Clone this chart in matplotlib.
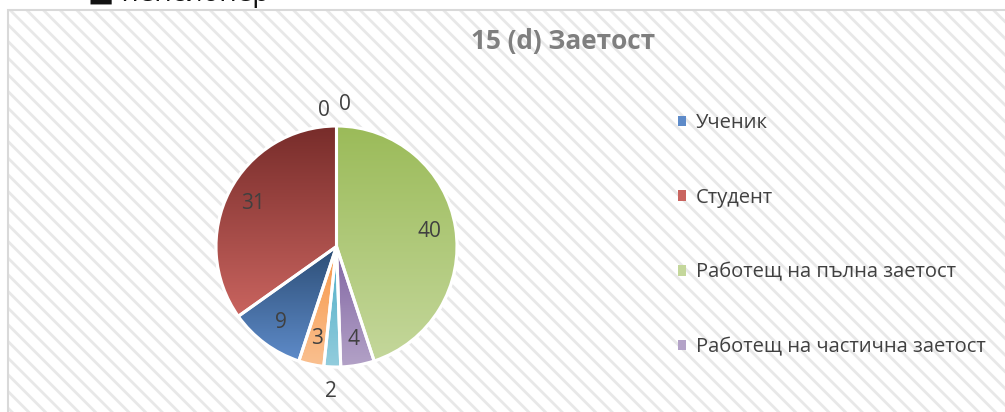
import numpy as np
import matplotlib
matplotlib.use("Agg")
import matplotlib.pyplot as plt
from matplotlib.patches import Rectangle, Patch, PathPatch
from matplotlib.colors import LinearSegmentedColormap

# data
categories = ["Ученик", "Студент", "Работещ на пълна заетост", "Работещ на частична заетост",
              "Безработен", "Пенсионер", "Домакиня", "Друго"]
values = [9, 31, 40, 4, 2, 3, 0, 0]
top_colors = ["#2c4d75", "#772c2a", "#9bbb59", "#8064a2", "#4bacc6", "#f79646", "#1f3a5c", "#5c2220"]
bottom_colors = ["#5e8bc9", "#c9645f", "#c4d79b", "#b3a2c7", "#93cddd", "#fac090", "#4f81bd", "#c0504d"]
slice_order = [2, 3, 4, 5, 0, 1, 6, 7]   # clockwise from 12 o'clock
legend_shown = 4
title = "15 (d) Заетост"

plt.rcParams['font.family'] = ['Open Sans', 'DejaVu Sans']
plt.rcParams['hatch.linewidth'] = 2.0

W, H = 1005, 412
fig = plt.figure(figsize=(W / 100, H / 100), dpi=100)

# chart area with diagonal hatch
fig.patches.append(Rectangle((8 / W, -0.05), 1.0, (H - 10) / H + 0.05, transform=fig.transFigure,
                             facecolor="white", edgecolor="#e8e8e8", hatch="\\\\", lw=0, zorder=-2))
fig.patches.append(Rectangle((8 / W, -0.05), 1.0, (H - 10) / H + 0.05, transform=fig.transFigure,
                             fill=False, edgecolor="#d9d9d9", lw=1.5, zorder=-1))

# text of the document above the chart (cut off)
fig.text(88 / W, 1 - 1.5 / H, "■ пенсионер", fontsize=20, color="#111111", va="baseline", ha="left")

# pie
cx, cy, r = 336.5, 246.5, 120.5
half = 160
ax = fig.add_axes([(cx - half) / W, (H - cy - half) / H, 2 * half / W, 2 * half / H])
vals = [values[i] for i in slice_order]
wedges, _ = ax.pie(vals, startangle=90, counterclock=False, radius=1,
                   wedgeprops=dict(edgecolor="white", linewidth=2))

total = sum(values)
zero_label_pos = [(95.5, 1.13), (86.5, 1.18)]
zi = 0
grad = np.linspace(0, 1, 256).reshape(-1, 1)
for w, idx in zip(wedges, slice_order):
    v = values[idx]
    if v > 0:
        cmap = LinearSegmentedColormap.from_list("g", [top_colors[idx], bottom_colors[idx]])
        bb = w.get_path().get_extents()
        im = ax.imshow(grad, cmap=cmap, extent=(bb.x0, bb.x1, bb.y0, bb.y1),
                       origin="upper", aspect="auto", zorder=2)
        im.set_clip_path(w)
        ax.add_patch(PathPatch(w.get_path(), facecolor="none", edgecolor="white", lw=2.2, zorder=3))
        mid = np.deg2rad((w.theta1 + w.theta2) / 2)
        dist = 1.2 if v / total < 0.03 else 0.78
    else:
        ang, dist = zero_label_pos[zi]
        zi += 1
        mid = np.deg2rad(ang)
    ax.text(dist * np.cos(mid), dist * np.sin(mid), str(v), ha="center", va="center",
            fontsize=15, color="#404040", zorder=4)

lim = half / r
ax.set_xlim(-lim, lim)
ax.set_ylim(-lim, lim)
ax.set_aspect("equal")
ax.axis("off")

# title
fig.text(563 / W, 1 - 42 / H, title, ha="center", va="center", fontsize=18.8,
         fontweight="bold", color="#7f7f7f")

# legend (only first entries fit in the chart area)
handles = [Patch(facecolor=bottom_colors[i], edgecolor="none") for i in range(legend_shown)]
fig.legend(handles, categories[:legend_shown], loc="upper left",
           bbox_to_anchor=(678 / W, 1 - 113 / H), frameon=False, fontsize=14.5,
           labelcolor="#404040", handlelength=0.42, handleheight=0.42,
           handletextpad=0.45, labelspacing=2.72, borderpad=0, borderaxespad=0)

fig.savefig("out.png", dpi=100)
